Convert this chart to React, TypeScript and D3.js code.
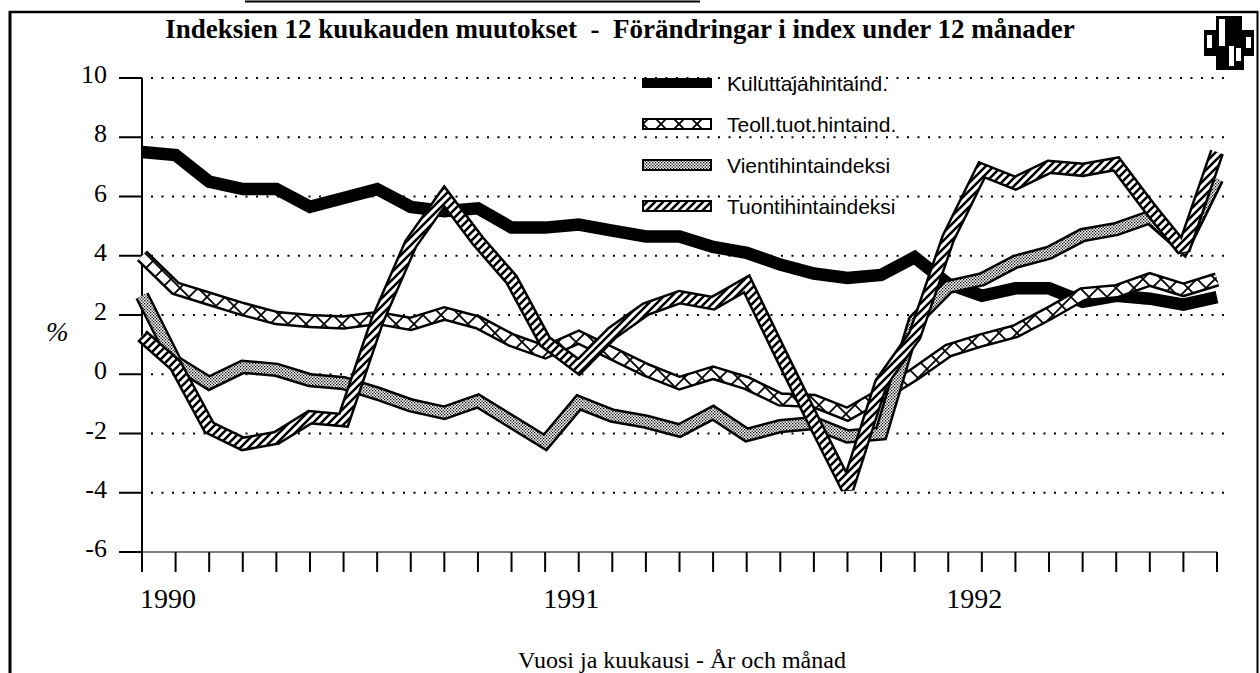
import React, { useEffect, useRef } from "react";
import * as d3 from "d3";

// 12 month changes, 1/1990 - 9/1992 (33 months)
const title = "Indeksien 12 kuukauden muutokset  -  Förändringar i index under 12 månader";
const xTitle = "Vuosi ja kuukausi - År och månad";
const yUnit = "%";
const yearLabels = ["1990", "1991", "1992"];
const yTicks = [10, 8, 6, 4, 2, 0, -2, -4, -6];
const gridTicks = [10, 8, 6, 4, 2, 0, -2, -4];
const monthCount = 33;

const kuluttaja = [
  7.5, 7.4, 6.5, 6.25, 6.25, 5.65, 5.95, 6.25, 5.65, 5.5, 5.6, 4.95,
  4.95, 5.05, 4.85, 4.65, 4.65, 4.3, 4.1, 3.7, 3.4, 3.25, 3.35, 3.95,
  3.05, 2.65, 2.9, 2.9, 2.45, 2.65, 2.55, 2.35, 2.6,
];
const teoll = [
  4.0, 2.9, 2.55, 2.2, 1.9, 1.8, 1.75, 1.9, 1.7, 2.05, 1.75, 1.15,
  0.75, 1.25, 0.7, 0.15, -0.3, 0.05, -0.3, -0.85, -0.9, -1.35, -0.7, 0.0,
  0.8, 1.15, 1.45, 2.05, 2.7, 2.8, 3.2, 2.85, 3.2,
];
const vienti = [
  2.65, 0.4, -0.3, 0.25, 0.15, -0.2, -0.3, -0.65, -1.05, -1.3, -0.9, -1.6,
  -2.3, -0.95, -1.4, -1.6, -1.9, -1.3, -2.05, -1.75, -1.65, -2.1, -2.0, 1.8,
  2.95, 3.2, 3.8, 4.1, 4.7, 4.9, 5.3, 4.3, 6.6,
];
const tuonti = [
  1.3, 0.3, -1.8, -2.35, -2.15, -1.45, -1.55, 1.8, 4.4, 6.0, 4.5, 3.2,
  1.1, 0.25, 1.4, 2.2, 2.6, 2.4, 3.05, 0.7, -1.6, -3.85, -0.3, 1.3,
  4.6, 6.9, 6.45, 7.0, 6.9, 7.1, 5.6, 4.2, 7.5,
];

const seriesNames = ["Kuluttajahintaind.", "Teoll.tuot.hintaind.", "Vientihintaindeksi", "Tuontihintaindeksi"];
const seriesFills = ["solid", "weave", "dots", "hatch"];

const serif = "'Liberation Serif', 'Times New Roman', serif";
const sans = "'Liberation Sans', Arial, sans-serif";

const App = () => {
  const ref = useRef<SVGSVGElement>(null);

  useEffect(() => {
    drawChart();
  }, []);

  const drawChart = () => {
    const svg = d3.select(ref.current);
    svg.selectAll("*").remove();

    const x = d3.scaleLinear().domain([0, monthCount - 1]).range([142, 1217]);
    const y = d3.scaleLinear().domain([-6, 10]).range([552, 78]);

    // fill patterns
    const defs = svg.append("defs");
    const weave = defs.append("pattern").attr("id", "weave")
      .attr("patternUnits", "userSpaceOnUse").attr("width", 18).attr("height", 18);
    weave.append("rect").attr("width", 18).attr("height", 18).attr("fill", "#fff");
    weave.append("path").attr("d", "M0,0L18,18M0,18L18,0")
      .attr("stroke", "#000").attr("stroke-width", 1.8);

    const dots = defs.append("pattern").attr("id", "dots")
      .attr("patternUnits", "userSpaceOnUse").attr("width", 3).attr("height", 3);
    dots.append("rect").attr("width", 3).attr("height", 3).attr("fill", "#fff");
    dots.append("rect").attr("width", 1.3).attr("height", 1.3).attr("fill", "#000");
    dots.append("rect").attr("x", 1.5).attr("y", 1.5).attr("width", 1.3).attr("height", 1.3).attr("fill", "#000");

    const hatch = defs.append("pattern").attr("id", "hatch")
      .attr("patternUnits", "userSpaceOnUse").attr("width", 8).attr("height", 8);
    hatch.append("rect").attr("width", 8).attr("height", 8).attr("fill", "#fff");
    hatch.append("path").attr("d", "M-2,2L2,-2M0,8L8,0M6,10L10,6")
      .attr("stroke", "#000").attr("stroke-width", 2.6);

    // frame
    svg.append("line").attr("x1", 10).attr("x2", 10).attr("y1", 11).attr("y2", 673)
      .attr("stroke", "#000").attr("stroke-width", 3);
    svg.append("line").attr("x1", 9).attr("x2", 1258).attr("y1", 12).attr("y2", 12)
      .attr("stroke", "#000").attr("stroke-width", 2.5);
    svg.append("line").attr("x1", 1257.5).attr("x2", 1257.5).attr("y1", 11).attr("y2", 673)
      .attr("stroke", "#000").attr("stroke-width", 2);
    svg.append("line").attr("x1", 245).attr("x2", 700).attr("y1", 1.5).attr("y2", 1.5)
      .attr("stroke", "#000").attr("stroke-width", 2);

    // title
    svg.append("text").attr("x", 620).attr("y", 38).attr("text-anchor", "middle")
      .style("white-space", "pre").attr("font-family", serif).attr("font-weight", "bold")
      .attr("font-size", 27).text(title);

    // logo
    const logo = svg.append("g");
    logo.append("path")
      .attr("d", "M1216,16H1242V30H1254V56H1244V70H1216V56H1204V30H1216Z")
      .attr("fill", "#000");
    const bars = [
      [1207, 35, 5, 13], [1219, 19, 6, 27], [1229, 46, 5, 20], [1236, 48, 5, 13], [1246, 37, 5, 11],
    ];
    bars.forEach(([bx, by, bw, bh]) => {
      logo.append("rect").attr("x", bx).attr("y", by).attr("width", bw).attr("height", bh)
        .attr("fill", "#fff");
    });

    // dotted grid
    svg.append("g").selectAll("line").data(gridTicks).join("line")
      .attr("x1", 151).attr("x2", 1224)
      .attr("y1", (d) => y(d)).attr("y2", (d) => y(d))
      .attr("stroke", "#000").attr("stroke-width", 2).attr("stroke-dasharray", "2,8.5");

    // axes
    svg.append("line").attr("x1", 142).attr("x2", 142).attr("y1", y(10)).attr("y2", 572)
      .attr("stroke", "#000").attr("stroke-width", 2);
    svg.append("line").attr("x1", 119).attr("x2", x(monthCount - 1)).attr("y1", y(-6)).attr("y2", y(-6))
      .attr("stroke", "#000").attr("stroke-width", 1.2);
    svg.append("g").selectAll("line").data(yTicks).join("line")
      .attr("x1", 119).attr("x2", 142).attr("y1", (d) => y(d)).attr("y2", (d) => y(d))
      .attr("stroke", "#000").attr("stroke-width", 2);
    svg.append("g").selectAll("line").data(d3.range(monthCount)).join("line")
      .attr("x1", (d) => x(d)).attr("x2", (d) => x(d)).attr("y1", y(-6)).attr("y2", 572)
      .attr("stroke", "#000").attr("stroke-width", 2);

    svg.append("g").selectAll("text").data(yTicks).join("text")
      .attr("x", 107).attr("y", (d) => y(d) + 5).attr("text-anchor", "end")
      .attr("font-family", serif).attr("font-size", 26)
      .text((d) => (d < 0 ? "-" + Math.abs(d) : String(d)));
    svg.append("text").attr("x", 46).attr("y", 341).attr("font-family", serif)
      .attr("font-style", "italic").attr("font-size", 27).text(yUnit);

    svg.append("g").selectAll("text").data(yearLabels).join("text")
      .attr("x", (d, i) => x(i * 12) - 2).attr("y", 608)
      .attr("font-family", serif).attr("font-size", 28).text((d) => d);
    svg.append("text").attr("x", 682).attr("y", 668).attr("text-anchor", "middle")
      .attr("font-family", serif).attr("font-size", 24).text(xTitle);

    // series bands
    const line = d3.line<number>().x((d, i) => x(i)).y((d) => y(d));
    const allSeries = [kuluttaja, teoll, vienti, tuonti];
    allSeries.forEach((s, k) => {
      const g = svg.append("g").attr("fill", "none").attr("stroke-linejoin", "miter")
        .attr("stroke-miterlimit", 2);
      if (seriesFills[k] === "solid") {
        g.append("path").attr("d", line(s)).attr("stroke", "#000").attr("stroke-width", 12.5);
      } else {
        g.append("path").attr("d", line(s)).attr("stroke", "#000").attr("stroke-width", 14.5);
        g.append("path").attr("d", line(s)).attr("stroke", `url(#${seriesFills[k]})`).attr("stroke-width", 9.5);
      }
    });

    // legend
    const legend = svg.append("g").selectAll("g").data(seriesNames).join("g")
      .attr("transform", (d, i) => `translate(643, ${83 + i * 41})`);
    legend.append("rect")
      .attr("x", 0).attr("y", (d, i) => (i === 0 ? -4 : -5))
      .attr("width", 68).attr("height", (d, i) => (i === 0 ? 8 : 10))
      .attr("fill", (d, i) => (i === 0 ? "#000" : `url(#${seriesFills[i]})`))
      .attr("stroke", "#000").attr("stroke-width", 2);
    legend.append("text").attr("x", 84).attr("y", 8)
      .attr("font-family", sans).attr("font-size", 21).text((d) => d);
  };

  return (
    <div style={{ position: "absolute", left: 0, top: 0, background: "#fff" }}>
      <svg ref={ref} width={1260} height={673} style={{ display: "block" }}></svg>
    </div>
  );
};

export default App;
